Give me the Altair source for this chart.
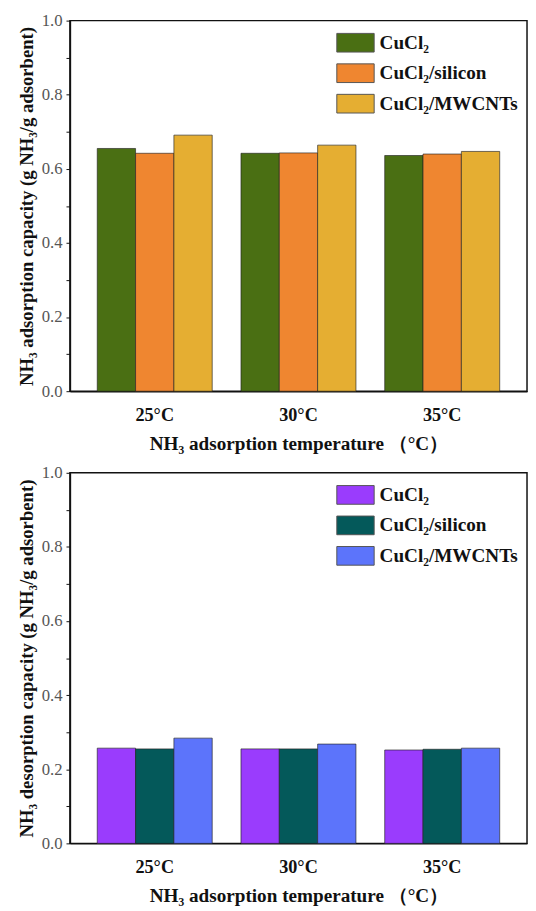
import altair as alt
import pandas as pd

temps = ["25°C", "30°C", "35°C"]
materials = ["CuCl₂", "CuCl₂/silicon", "CuCl₂/MWCNTs"]

ads_cucl2 = [0.655, 0.642, 0.636]
ads_silicon = [0.642, 0.643, 0.640]
ads_mwcnts = [0.691, 0.664, 0.647]

des_cucl2 = [0.257, 0.255, 0.252]
des_silicon = [0.255, 0.255, 0.254]
des_mwcnts = [0.284, 0.268, 0.257]

ads_colors = ["#4a6f13", "#ef8630", "#e5ae32"]
des_colors = ["#9a3cfd", "#04595a", "#5c74fb"]

y_ticks = [0.0, 0.1, 0.2, 0.3, 0.4, 0.5, 0.6, 0.7, 0.8, 0.9, 1.0]

x_title = "NH₃ adsorption temperature （°C）"
ads_title = "NH₃ adsorption capacity (g NH₃/g adsorbent)"
des_title = "NH₃ desorption capacity (g NH₃/g adsorbent)"


def make_df(series):
    rows = []
    for mat, vals in zip(materials, series):
        for t, v in zip(temps, vals):
            rows.append({"temp": t, "material": mat, "value": v})
    return pd.DataFrame(rows)


SERIF = "Liberation Serif"


def panel(df, colors, ytitle):
    return alt.Chart(df).mark_bar(
        stroke="#222", strokeWidth=0.8, strokeOpacity=0.8
    ).encode(
        x=alt.X(
            "temp:N", sort=temps,
            scale=alt.Scale(paddingInner=0.2, paddingOuter=0.19),
            axis=alt.Axis(
                title=x_title, ticks=False, labelAngle=0,
                labelFont=SERIF, labelFontWeight="bold", labelFontSize=18.5,
                labelColor="#111", labelPadding=15,
                titleFont=SERIF, titleFontWeight="bold", titleFontSize=19.5,
                titleColor="#111", titlePadding=11,
                domainColor="#111", domainWidth=1.5,
            ),
        ),
        xOffset=alt.XOffset("material:N", sort=materials,
                            scale=alt.Scale(paddingInner=0, paddingOuter=0)),
        y=alt.Y(
            "value:Q",
            scale=alt.Scale(domain=[0, 1], nice=False),
            axis=alt.Axis(
                title=ytitle, values=y_ticks,
                labelExpr="round(datum.value*10) % 2 == 0 ? format(datum.value, '.1f') : ''",
                labelFont=SERIF, labelFontSize=17, labelColor="#555",
                labelPadding=4, tickSize=4, tickColor="#111", tickWidth=1,
                titleFont=SERIF, titleFontWeight="bold", titleFontSize=19,
                titleColor="#111", titlePadding=5,
                domainColor="#111", domainWidth=1.5, grid=False,
            ),
        ),
        color=alt.Color(
            "material:N", sort=materials,
            scale=alt.Scale(domain=materials, range=colors),
            legend=alt.Legend(
                title=None, orient="none", legendX=271, legendY=3,
                symbolType="M-1,-0.5H1V0.5H-1Z", symbolSize=1444,
                symbolStrokeColor="#555", symbolStrokeWidth=1,
                symbolOpacity=1, labelFont=SERIF, labelFontWeight="bold",
                labelFontSize=19.5, labelColor="#111", labelOffset=5,
                rowPadding=-12.5,
            ),
        ),
    ).properties(width=465, height=377)


top = panel(make_df([ads_cucl2, ads_silicon, ads_mwcnts]), ads_colors, ads_title)
bottom = panel(make_df([des_cucl2, des_silicon, des_mwcnts]), des_colors, des_title)

chart = alt.vconcat(top, bottom, spacing=9).resolve_scale(
    color="independent"
).resolve_legend(color="independent").properties(
    padding={"left": 9, "top": -5, "right": 0, "bottom": 0}
).configure_view(stroke="#111", strokeWidth=1.5)

chart.save("out.html", embed_options={"renderer": "svg", "actions": False})
